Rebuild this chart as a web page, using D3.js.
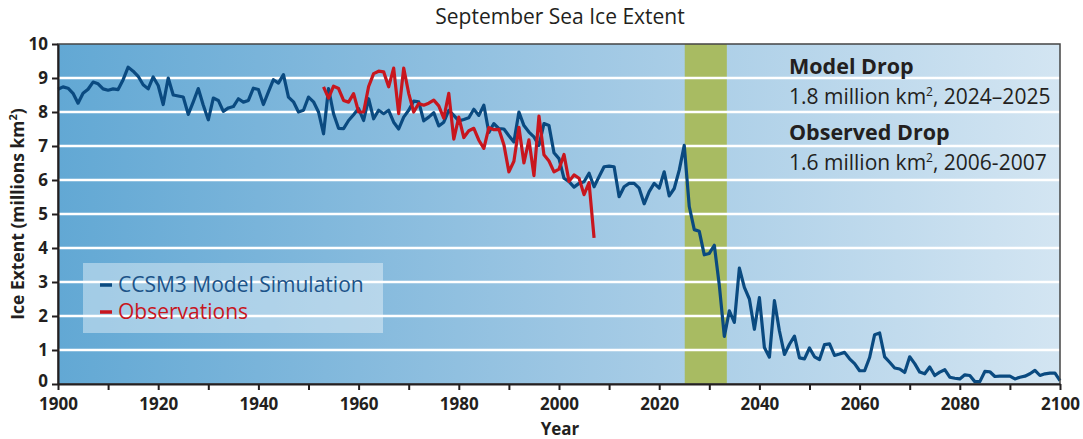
<!DOCTYPE html>
<html>
<head>
<meta charset="utf-8">
<script src="https://cdn.jsdelivr.net/npm/d3@7"></script>
<style>
  body { margin: 0; background: #fff; }
  text { font-family: "Open Sans", "Noto Sans", sans-serif; fill: #231f20; }
</style>
</head>
<body>
<div id="chart"></div>
<script>
// model years run 1900..2100, one value per year
var modelStart = 1900;
var modelValues = [
  8.67, 8.74, 8.70, 8.55, 8.26, 8.55, 8.67, 8.88, 8.83, 8.68,
  8.64, 8.68, 8.66, 8.95, 9.32, 9.20, 9.05, 8.80, 8.68, 9.03,
  8.78, 8.22, 9.00, 8.50, 8.47, 8.44, 7.93, 8.30, 8.69, 8.20,
  7.77, 8.41, 8.34, 8.02, 8.12, 8.16, 8.39, 8.29, 8.34, 8.70,
  8.66, 8.22, 8.59, 8.95, 8.85, 9.10, 8.44, 8.30, 8.00, 8.05,
  8.44, 8.30, 8.00, 7.36, 8.69, 7.95, 7.52, 7.51, 7.75, 7.92,
  8.10, 7.75, 8.39, 7.80, 8.05, 7.95, 8.05, 7.70, 7.50, 7.85,
  8.05, 8.32, 8.30, 7.74, 7.85, 7.98, 7.59, 7.70, 8.05, 7.90,
  7.74, 7.78, 7.83, 8.08, 7.90, 8.20, 7.40, 7.66, 7.51, 7.50,
  7.30, 7.12, 8.00, 7.60, 7.41, 7.27, 7.02, 7.66, 7.60, 6.80,
  6.63, 6.05, 5.95, 5.79, 5.90, 5.95, 6.20, 5.80, 6.10, 6.39,
  6.41, 6.39, 5.51, 5.80, 5.90, 5.90, 5.76, 5.30, 5.66, 5.90,
  5.76, 6.24, 5.53, 5.75, 6.29, 7.02, 5.22, 4.54, 4.49, 3.80,
  3.84, 4.08, 2.90, 1.40, 2.15, 1.81, 3.41, 2.84, 2.50, 1.61,
  2.54, 1.07, 0.79, 2.45, 1.56, 0.87, 1.17, 1.41, 0.77, 0.74,
  1.06, 0.80, 0.72, 1.16, 1.18, 0.84, 0.88, 0.93, 0.74, 0.60,
  0.39, 0.39, 0.78, 1.45, 1.50, 0.80, 0.64, 0.47, 0.44, 0.34,
  0.80, 0.60, 0.35, 0.30, 0.50, 0.25, 0.35, 0.42, 0.20, 0.17,
  0.15, 0.27, 0.25, 0.07, 0.07, 0.37, 0.36, 0.22, 0.23, 0.23,
  0.23, 0.15, 0.20, 0.23, 0.30, 0.40, 0.25, 0.30, 0.32, 0.32,
  0.10
];

// observations 1953..2007
var obsStart = 1953;
var obsValues = [
  8.74, 8.41, 8.76, 8.69, 8.34, 8.29, 8.54, 8.00, 8.00, 8.75,
  9.13, 9.20, 9.18, 8.74, 9.29, 7.95, 9.29, 8.55, 8.00, 8.25,
  8.20, 8.26, 8.35, 8.18, 7.82, 8.55, 7.20, 7.85, 7.25, 7.45,
  7.52, 7.17, 6.93, 7.54, 7.48, 7.49, 7.04, 6.24, 6.55, 7.55,
  6.50, 7.18, 6.13, 7.88, 6.74, 6.56, 6.24, 6.32, 6.75, 5.96,
  6.15, 6.05, 5.57, 5.92, 4.30
];

var dropBand = [2025.1, 2033.5];
var yTicks = [0, 1, 2, 3, 4, 5, 6, 7, 8, 9, 10];
var xLabelTicks = [1900, 1920, 1940, 1960, 1980, 2000, 2020, 2040, 2060, 2080, 2100];
var xMinorTicks = d3.range(1900, 2101, 10);

var model = modelValues.map(function(v, i) { return {year: modelStart + i, value: v}; });
var obs = obsValues.map(function(v, i) { return {year: obsStart + i, value: v}; });

var margin = {top: 44, right: 23, bottom: 55, left: 58},
    width = 1083 - margin.left - margin.right,
    height = 439 - margin.top - margin.bottom;

var svg = d3.select("#chart")
  .append("svg")
    .attr("width", 1083)
    .attr("height", 439);

var defs = svg.append("defs");
var grad = defs.append("linearGradient")
    .attr("id", "bg")
    .attr("x1", "0%").attr("x2", "100%")
    .attr("y1", "0%").attr("y2", "0%");
grad.append("stop").attr("offset", "0%").attr("stop-color", "#62a8d4");
grad.append("stop").attr("offset", "50%").attr("stop-color", "#9cc6e3");
grad.append("stop").attr("offset", "100%").attr("stop-color", "#d3e5f2");

var g = svg.append("g")
    .attr("transform", "translate(" + margin.left + "," + margin.top + ")");

var x = d3.scaleLinear().domain([1900, 2100]).range([0, width]);
var y = d3.scaleLinear().domain([0, 10]).range([height, 0]);

// background
g.append("rect")
    .attr("width", width)
    .attr("height", height)
    .attr("fill", "url(#bg)");

// green band for the big model drop
g.append("rect")
    .attr("x", x(dropBand[0]))
    .attr("y", 0)
    .attr("width", x(dropBand[1]) - x(dropBand[0]))
    .attr("height", height)
    .attr("fill", "#a8bb62");

// white gridlines
g.selectAll(".grid")
  .data(yTicks.filter(function(d) { return d > 0 && d < 10; }))
  .enter().append("line")
    .attr("x1", 0).attr("x2", width)
    .attr("y1", function(d) { return y(d); })
    .attr("y2", function(d) { return y(d); })
    .attr("stroke", "#fff")
    .attr("stroke-width", 2.5);

// legend box
var legend = g.append("g").attr("transform", "translate(25,219)");
legend.append("rect")
    .attr("width", 300).attr("height", 70)
    .attr("fill", "#fff").attr("fill-opacity", 0.4);
var legendItems = [
  {label: "CCSM3 Model Simulation", color: "#0a4a80", textColor: "#1c5388"},
  {label: "Observations", color: "#c8161e", textColor: "#c8161e"}
];
legendItems.forEach(function(d, i) {
  legend.append("line")
      .attr("x1", 17).attr("x2", 29)
      .attr("y1", 22 + i * 27).attr("y2", 22 + i * 27)
      .attr("stroke", d.color).attr("stroke-width", 3.5);
  legend.append("text")
      .attr("x", 35).attr("y", 29 + i * 27)
      .style("font-size", "21px")
      .style("fill", d.textColor)
      .text(d.label);
});

var line = d3.line()
    .x(function(d) { return x(d.year); })
    .y(function(d) { return y(d.value); })
    .curve(d3.curveLinear);

g.append("path")
    .datum(model)
    .attr("fill", "none")
    .attr("stroke", "#0a4a80")
    .attr("stroke-width", 3.2)
    .attr("stroke-linejoin", "round")
    .attr("d", line);

g.append("path")
    .datum(obs)
    .attr("fill", "none")
    .attr("stroke", "#c8161e")
    .attr("stroke-width", 3.2)
    .attr("stroke-linejoin", "round")
    .attr("d", line);

// frame
g.append("rect")
    .attr("width", width).attr("height", height)
    .attr("fill", "none")
    .attr("stroke", "#444").attr("stroke-width", 1.5);

// axes
var yAxis = g.append("g")
    .call(d3.axisLeft(y).tickValues(yTicks).tickSize(6).tickSizeOuter(0).tickPadding(4));
var xAxis = g.append("g")
    .attr("transform", "translate(0," + height + ")")
    .call(d3.axisBottom(x).tickValues(xMinorTicks).tickSize(6).tickSizeOuter(0).tickPadding(8)
      .tickFormat(function(d) { return xLabelTicks.indexOf(d) >= 0 ? d : ""; }));

[xAxis, yAxis].forEach(function(a) {
  a.select(".domain").attr("stroke", "#231f20").attr("stroke-width", 2);
  a.selectAll(".tick line").attr("stroke", "#231f20").attr("stroke-width", 2);
  a.selectAll(".tick text")
      .style("font-weight", "bold")
      .style("font-family", "'Open Sans', sans-serif")
      .attr("fill", "#231f20");
});
xAxis.selectAll(".tick text").style("font-size", "17px");
yAxis.selectAll(".tick text").style("font-size", "17px");
// lift the zero label a touch so it clears the 1900 label
yAxis.selectAll(".tick text").filter(function(d) { return d === 0; }).attr("y", -3);

// titles
svg.append("text")
    .attr("x", 560).attr("y", 24)
    .style("text-anchor", "middle")
    .style("font-size", "21px")
    .text("September Sea Ice Extent");

svg.append("text")
    .attr("x", margin.left + width / 2 + 1).attr("y", 435)
    .style("text-anchor", "middle")
    .style("font-size", "17px")
    .style("font-weight", "bold")
    .text("Year");

var yTitle = svg.append("text")
    .attr("transform", "translate(24," + (margin.top + height / 2) + ") rotate(-90)")
    .style("text-anchor", "middle")
    .style("font-size", "17.5px")
    .style("font-weight", "bold");
yTitle.append("tspan").text("Ice Extent (millions km");
yTitle.append("tspan").attr("dy", -7).style("font-size", "11px").text("2");
yTitle.append("tspan").attr("dy", 7).text(")");

// drop notes
var notes = [
  {head: "Model Drop", amount: "1.8", years: "2024\u20132025", y: 74},
  {head: "Observed Drop", amount: "1.6", years: "2006-2007", y: 140}
];
notes.forEach(function(n) {
  svg.append("text")
      .attr("x", 789).attr("y", n.y)
      .style("font-size", "21.5px")
      .style("font-weight", "bold")
      .text(n.head);
  var t = svg.append("text")
      .attr("x", 789).attr("y", n.y + 30)
      .style("font-size", "21px");
  t.append("tspan").text(n.amount + " million km");
  t.append("tspan").attr("dy", -8).style("font-size", "12px").text("2");
  t.append("tspan").attr("dy", 8).text(", " + n.years);
});
</script>
</body>
</html>
